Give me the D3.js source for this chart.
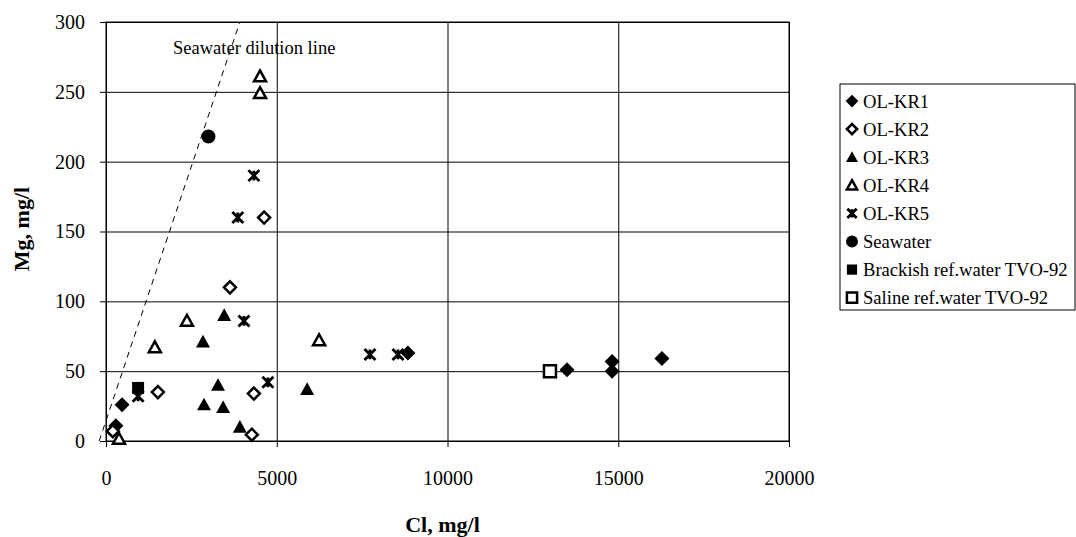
<!DOCTYPE html>
<html>
<head>
<meta charset="utf-8">
<script src="https://cdn.jsdelivr.net/npm/d3@7"></script>
<style>
  body { margin: 0; background: #fff; }
  svg { font-family: "Liberation Serif", "Times New Roman", serif; }
  .grid line { stroke: #000; stroke-width: 1; }
  .grid path { display: none; }
  .tick text { font-size: 20px; fill: #000; font-family: "Liberation Serif", "Times New Roman", serif; }
</style>
</head>
<body>
<div id="chart"></div>
<script>
// Data: [Cl mg/l, Mg mg/l]
var olkr1 = [[290, 11], [470, 26], [8840, 63], [13500, 51], [14820, 57], [14820, 50], [16280, 59]];
var olkr2 = [[200, 7], [1520, 35], [3630, 110], [4630, 160], [4330, 34], [4270, 4.5]];
var olkr3 = [[2840, 71], [3460, 90], [3280, 40], [2870, 26], [3430, 24], [3920, 10], [5890, 37]];
var olkr4 = [[380, 1.5], [1430, 67], [2370, 86], [4510, 261], [4510, 249], [6240, 72]];
var olkr5 = [[940, 32], [3860, 160], [4330, 190], [4040, 86], [4740, 42], [7730, 62], [8550, 62]];
var seawater = [[3000, 218]];
var brackish = [[940, 38]];
var saline = [[13000, 50]];
var dilutionLine = [[-200, 0], [3920, 300]];

var xTicks = [0, 5000, 10000, 15000, 20000];
var yTicks = [0, 50, 100, 150, 200, 250, 300];

var svgWidth = 1076, svgHeight = 537;
var margin = { top: 22, right: 287, bottom: 96, left: 106 };
var width = svgWidth - margin.left - margin.right;
var height = svgHeight - margin.top - margin.bottom;

var svg = d3.select("#chart").append("svg")
  .attr("width", svgWidth)
  .attr("height", svgHeight);

var g = svg.append("g")
  .attr("transform", `translate(${margin.left}, ${margin.top})`);

var x = d3.scaleLinear().domain([0, 20000]).range([0, width]);
var y = d3.scaleLinear().domain([0, 300]).range([height, 0]);

// custom marker shapes, size = half width
var diamond = { draw: function(c, s) { c.moveTo(0, -s); c.lineTo(s, 0); c.lineTo(0, s); c.lineTo(-s, 0); c.closePath(); } };
var triangle = { draw: function(c, s) { c.moveTo(0, -s); c.lineTo(s, s * 0.8); c.lineTo(-s, s * 0.8); c.closePath(); } };
var square = { draw: function(c, s) { c.rect(-s, -s, 2 * s, 2 * s); } };
var circle = { draw: function(c, s) { c.moveTo(s, 0); c.arc(0, 0, s, 0, 2 * Math.PI); } };
var star = { draw: function(c, s) {
  c.moveTo(-s, -s); c.lineTo(s, s);
  c.moveTo(s, -s); c.lineTo(-s, s);
  c.moveTo(0, -s * 0.9); c.lineTo(0, s * 0.9);
} };

var series = [
  { name: "OL-KR1", data: olkr1, type: diamond, size: 7.5, fill: "#000", sw: 0 },
  { name: "OL-KR2", data: olkr2, type: diamond, size: 6, fill: "#fff", sw: 2.5 },
  { name: "OL-KR3", data: olkr3, type: triangle, size: 7, fill: "#000", sw: 0 },
  { name: "OL-KR4", data: olkr4, type: triangle, size: 6, fill: "#fff", sw: 2.5 },
  { name: "OL-KR5", data: olkr5, type: star, size: 5.5, fill: "none", sw: 2.8 },
  { name: "Seawater", data: seawater, type: circle, size: 7, fill: "#000", sw: 0 },
  { name: "Brackish ref.water TVO-92", data: brackish, type: square, size: 6, fill: "#000", sw: 0 },
  { name: "Saline ref.water TVO-92", data: saline, type: square, size: 6, fill: "#fff", sw: 2.5 }
];

// gridlines
g.append("g").attr("class", "grid")
  .call(d3.axisLeft(y).tickValues(yTicks).tickSize(-width).tickFormat(""));
g.append("g").attr("class", "grid")
  .attr("transform", `translate(0, ${height})`)
  .call(d3.axisBottom(x).tickValues(xTicks).tickSize(-height).tickFormat(""));

// plot border
g.append("rect")
  .attr("width", width).attr("height", height)
  .attr("fill", "none").attr("stroke", "#000").attr("stroke-width", 1);

// axes
var yAxis = g.append("g")
  .call(d3.axisLeft(y).tickValues(yTicks).tickSize(6).tickPadding(15));
var xAxis = g.append("g")
  .attr("transform", `translate(0, ${height})`)
  .call(d3.axisBottom(x).tickValues(xTicks).tickSize(6).tickPadding(24).tickFormat(d3.format("d")));
yAxis.attr("font-family", null);
xAxis.attr("font-family", null);
yAxis.select(".domain").attr("stroke", "#000");
xAxis.select(".domain").attr("stroke", "#000");

// seawater dilution line
g.append("path")
  .datum(dilutionLine)
  .attr("d", d3.line().x(d => x(d[0])).y(d => y(d[1])))
  .attr("fill", "none")
  .attr("stroke", "#000")
  .attr("stroke-width", 1)
  .attr("stroke-dasharray", "6,5");

g.append("text")
  .attr("x", 67).attr("y", 32)
  .attr("font-size", 18.5)
  .text("Seawater dilution line");

// markers
series.forEach(function(s) {
  g.selectAll(null)
    .data(s.data)
    .enter()
    .append("path")
    .attr("transform", d => `translate(${x(d[0])}, ${y(d[1])})`)
    .attr("d", d3.symbol().type(s.type).size(s.size))
    .attr("fill", s.fill)
    .attr("stroke", "#000")
    .attr("stroke-width", s.sw);
});

// axis titles
svg.append("text")
  .attr("x", margin.left + width / 2 - 5).attr("y", 532)
  .attr("text-anchor", "middle")
  .attr("font-size", 22).attr("font-weight", "bold")
  .text("Cl, mg/l");

svg.append("text")
  .attr("transform", "translate(29, 229) rotate(-90)")
  .attr("text-anchor", "middle")
  .attr("font-size", 22).attr("font-weight", "bold")
  .text("Mg, mg/l");

// legend
var legend = svg.append("g").attr("transform", "translate(840, 84)");
legend.append("rect")
  .attr("width", 235).attr("height", 226)
  .attr("fill", "#fff").attr("stroke", "#000").attr("stroke-width", 1);

var items = legend.selectAll(".item")
  .data(series)
  .enter()
  .append("g")
  .attr("transform", (d, i) => `translate(12, ${17 + i * 28.1})`);

items.append("path")
  .attr("d", d => d3.symbol().type(d.type).size(d.size * 0.85)())
  .attr("fill", d => d.fill)
  .attr("stroke", "#000")
  .attr("stroke-width", d => d.sw);

items.append("text")
  .attr("x", 11).attr("dy", "0.35em")
  .attr("font-size", 18.6)
  .text(d => d.name);
</script>
</body>
</html>
